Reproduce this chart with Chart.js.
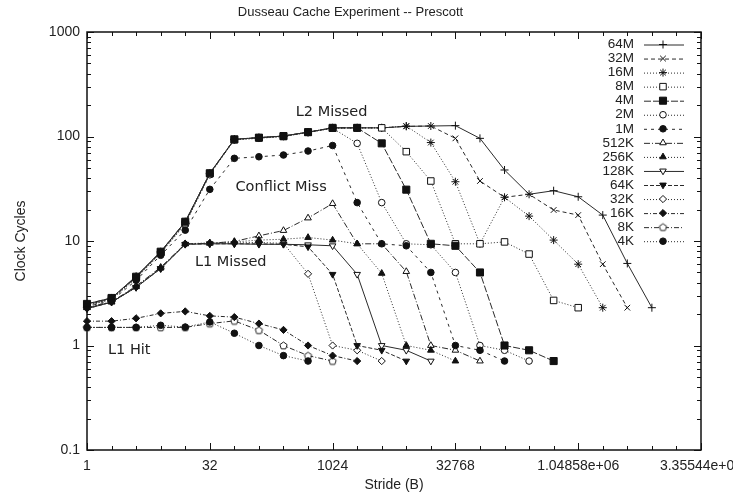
<!DOCTYPE html>
<html>
<head>
<meta charset="utf-8">
<title>Dusseau Cache Experiment -- Prescott</title>
<script src="https://cdn.jsdelivr.net/npm/chart.js@4.4.0/dist/chart.umd.min.js"></script>
<style>
  body { margin: 0; background: #fff; }
  canvas { display: block; }
</style>
</head>
<body>
<canvas id="cacheChart" width="733" height="492"></canvas>
<script>
// ============================================
// DATA
// ============================================

// Stride in bytes (x axis, log2 steps)
const strides = [1, 2, 4, 8, 16, 32, 64, 128, 256, 512, 1024, 2048, 4096, 8192,
    16384, 32768, 65536, 131072, 262144, 524288, 1048576, 2097152, 4194304, 8388608];

// Array sizes, in legend order
const sizeLabels = ['64M', '32M', '16M', '8M', '4M', '2M', '1M', '512K', '256K',
    '128K', '64K', '32K', '16K', '8K', '4K'];

// Clock cycles per access, one list per array size
const cycles64M = [2.5, 2.85, 4.6, 7.9, 15.3, 44.5, 94, 97.5, 101, 110, 121, 121, 121, 125, 126, 127, 96, 47.8, 28, 30.3, 26.5, 17.7, 6.1, 2.3];
const cycles32M = [2.45, 2.8, 4.5, 7.8, 15.0, 44, 94, 97.5, 101, 110, 121, 121, 121, 125, 126, 96, 37.5, 26.2, 28, 19.8, 17.7, 6.0, 2.3];
const cycles16M = [2.45, 2.8, 4.5, 7.8, 15.0, 44, 94, 97.5, 101, 110, 121, 121, 121, 126, 87.5, 36.9, 9.4, 26.2, 17.3, 10.2, 6.0, 2.3];
const cycles8M = [2.4, 2.8, 4.45, 7.7, 14.8, 44, 93, 97, 100, 110, 120, 121, 121, 71.6, 37.5, 9.4, 9.4, 9.8, 7.5, 2.7, 2.3];
const cycles4M = [2.5, 2.85, 4.55, 7.9, 15.3, 44.5, 94, 97.5, 101, 110, 121, 121, 86, 31, 9.4, 9.0, 5.0, 1.0, 0.9, 0.71];
const cycles2M = [2.4, 2.75, 4.4, 7.6, 14.5, 43, 93, 96, 100, 109, 120, 86, 23.3, 9.4, 9.2, 5.0, 1.0, 0.9, 0.71];
const cycles1M = [2.35, 2.7, 4.2, 7.3, 12.7, 31.2, 61.8, 64, 66.5, 72.6, 82, 23.3, 9.4, 9.0, 5.0, 1.0, 0.9, 0.71];
const cycles512K = [2.3, 2.62, 3.7, 5.6, 9.4, 9.5, 9.9, 11.2, 12.6, 16.6, 22.8, 9.4, 9.4, 5.1, 1.0, 0.9, 0.71];
const cycles256K = [2.3, 2.6, 3.65, 5.5, 9.4, 9.6, 9.8, 10.2, 10.4, 10.8, 10.2, 9.4, 4.9, 1.0, 0.9, 0.71];
const cycles128K = [2.25, 2.6, 3.6, 5.45, 9.3, 9.4, 9.4, 9.3, 9.3, 9.2, 9.0, 4.8, 1.0, 0.9, 0.71];
const cycles64K = [2.25, 2.6, 3.6, 5.45, 9.3, 9.4, 9.4, 9.4, 9.3, 8.8, 4.8, 1.0, 0.9, 0.71];
const cycles32K = [2.3, 2.62, 3.65, 5.5, 9.4, 9.5, 9.6, 9.7, 9.5, 4.85, 1.0, 0.9, 0.71];
const cycles16K = [1.71, 1.71, 1.82, 2.03, 2.12, 1.92, 1.87, 1.62, 1.41, 1.0, 0.8, 0.71];
const cycles8K = [1.49, 1.49, 1.49, 1.49, 1.49, 1.62, 1.72, 1.4, 1.0, 0.8, 0.71];
const cycles4K = [1.49, 1.49, 1.49, 1.56, 1.5, 1.68, 1.31, 1.0, 0.8, 0.71];

const allCycles = [cycles64M, cycles32M, cycles16M, cycles8M, cycles4M, cycles2M, cycles1M,
    cycles512K, cycles256K, cycles128K, cycles64K, cycles32K, cycles16K, cycles8K, cycles4K];

// Axis ticks
const xTicks = [1, 32, 1024, 32768, 1048576, 33554432];
const xTickLabels = ['1', '32', '1024', '32768', '1.04858e+06', '3.35544e+07'];
const yTicks = [0.1, 1, 10, 100, 1000];
const yTickLabels = ['0.1', '1', '10', '100', '1000'];

// Text labels placed in data coordinates (stride, cycles)
const noteTexts = ['L2 Missed', 'Conflict Miss', 'L1 Missed', 'L1 Hit'];
const noteStrides = [362, 66, 21, 1.81];
const noteCycles = [172, 33, 6.3, 0.91];

// ============================================
// STYLES
// ============================================

// Open pentagon marker (no built-in point style for it)
function makePentagon() {
    const c = document.createElement('canvas');
    c.width = 11;
    c.height = 11;
    const g = c.getContext('2d');
    g.beginPath();
    for (let i = 0; i < 5; i++) {
        const a = -Math.PI / 2 + i * 2 * Math.PI / 5;
        const px = 5.5 + 3.8 * Math.cos(a);
        const py = 5.8 + 3.8 * Math.sin(a);
        if (i === 0) g.moveTo(px, py); else g.lineTo(px, py);
    }
    g.closePath();
    g.fillStyle = '#fff';
    g.fill();
    g.strokeStyle = '#222';
    g.lineWidth = 1;
    g.stroke();
    return c;
}
const pentagon = makePentagon();

// dash, marker, filled, radius, rotation
const seriesStyles = [
    { dash: [], marker: 'cross', filled: false, radius: 4, rot: 0 },
    { dash: [4, 3], marker: 'crossRot', filled: false, radius: 4, rot: 0 },
    { dash: [1, 2], marker: 'star', filled: false, radius: 4, rot: 0 },
    { dash: [1, 2], marker: 'rect', filled: false, radius: 4.6, rot: 0 },
    { dash: [7, 2], marker: 'rect', filled: true, radius: 5, rot: 0 },
    { dash: [1, 2], marker: 'circle', filled: false, radius: 3.3, rot: 0 },
    { dash: [3, 4], marker: 'circle', filled: true, radius: 3.3, rot: 0 },
    { dash: [6, 2, 1, 2], marker: 'triangle', filled: false, radius: 3.8, rot: 0 },
    { dash: [1, 2], marker: 'triangle', filled: true, radius: 3.8, rot: 0 },
    { dash: [], marker: 'triangle', filled: false, radius: 3.8, rot: 180 },
    { dash: [4, 2], marker: 'triangle', filled: true, radius: 3.8, rot: 180 },
    { dash: [1, 2], marker: 'rectRot', filled: false, radius: 3.6, rot: 0 },
    { dash: [4, 2, 1, 2], marker: 'rectRot', filled: true, radius: 3.6, rot: 0 },
    { dash: [5, 2, 1, 2], marker: pentagon, filled: false, radius: 4, rot: 0 },
    { dash: [1, 2], marker: 'circle', filled: true, radius: 3.3, rot: 0 }
];

const lineColor = '#2a2a2a';
const tickFont = { family: '"Liberation Sans", Arial, sans-serif', size: 14 };

// ============================================
// DATASETS
// ============================================
// Filled markers end up on top of open ones; otherwise later series on top
const datasets = sizeLabels.map((label, i) => {
    const st = seriesStyles[i];
    return {
        label,
        data: allCycles[i].map((v, k) => ({ x: strides[k], y: v })),
        order: (st.filled ? 0 : 100) + (sizeLabels.length - i),
        borderColor: lineColor,
        borderWidth: 1,
        borderDash: st.dash,
        pointStyle: st.marker,
        pointRadius: st.radius,
        pointRotation: st.rot,
        pointBorderColor: '#111',
        pointBorderWidth: 1,
        pointBackgroundColor: st.filled ? '#111' : '#fff',
        tension: 0,
        fill: false,
        clip: false
    };
});

// ============================================
// PLUGIN: gnuplot-style frame, ticks, legend and labels
// ============================================
const gnuplotLook = {
    id: 'gnuplotLook',
    beforeDatasetsDraw(chart) {
        const { ctx, chartArea: a, scales: { x, y } } = chart;
        ctx.save();
        ctx.strokeStyle = '#111';
        ctx.lineWidth = 1;

        // inward ticks on x (bottom and mirrored top)
        for (let p = 0; p <= 25; p++) {
            const px = Math.round(x.getPixelForValue(Math.pow(2, p))) + 0.5;
            const len = (p % 5 === 0) ? 7 : 4;
            ctx.beginPath();
            ctx.moveTo(px, a.bottom);
            ctx.lineTo(px, a.bottom - len);
            ctx.moveTo(px, a.top);
            ctx.lineTo(px, a.top + len);
            ctx.stroke();
        }
        // inward ticks on y (left and mirrored right)
        for (let d = -1; d <= 3; d++) {
            for (let m = 1; m <= 9; m++) {
                const v = m * Math.pow(10, d);
                if (v > 1000) break;
                const py = Math.round(y.getPixelForValue(v)) + 0.5;
                const len = (m === 1) ? 7 : 4;
                ctx.beginPath();
                ctx.moveTo(a.left, py);
                ctx.lineTo(a.left + len, py);
                ctx.moveTo(a.right, py);
                ctx.lineTo(a.right - len, py);
                ctx.stroke();
            }
        }
        // frame
        ctx.lineWidth = 1.5;
        ctx.strokeRect(a.left, a.top, a.right - a.left, a.bottom - a.top);
        ctx.restore();
    },
    afterDraw(chart) {
        const { ctx, scales: { x, y } } = chart;
        ctx.save();

        // legend, gnuplot style: text right aligned, sample line to the right
        ctx.font = '13.5px "Liberation Sans", Arial, sans-serif';
        ctx.textBaseline = 'middle';
        ctx.textAlign = 'right';
        chart.data.datasets.forEach((ds, i) => {
            const rowY = 44.5 + i * 14.05;
            ctx.fillStyle = '#222';
            ctx.fillText(ds.label, 634, rowY);
            ctx.strokeStyle = lineColor;
            ctx.lineWidth = 1;
            ctx.setLineDash(ds.borderDash);
            ctx.beginPath();
            ctx.moveTo(644, rowY + 0.5);
            ctx.lineTo(684, rowY + 0.5);
            ctx.stroke();
            ctx.setLineDash([]);
            ctx.strokeStyle = ds.pointBorderColor;
            ctx.fillStyle = ds.pointBackgroundColor;
            Chart.helpers.drawPoint(ctx, {
                pointStyle: ds.pointStyle,
                rotation: ds.pointRotation,
                radius: ds.pointRadius,
                borderWidth: 1
            }, 663, rowY);
        });

        // region labels
        ctx.font = '14.5px "DejaVu Sans", sans-serif';
        ctx.textAlign = 'left';
        ctx.fillStyle = '#222';
        noteTexts.forEach((t, i) => {
            ctx.fillText(t, x.getPixelForValue(noteStrides[i]), y.getPixelForValue(noteCycles[i]));
        });
        ctx.restore();
    }
};

// ============================================
// CHART
// ============================================
new Chart(document.getElementById('cacheChart'), {
    type: 'line',
    data: { datasets },
    options: {
        responsive: false,
        animation: false,
        layout: { padding: { top: 0, right: 32, left: 0, bottom: 0 } },
        plugins: {
            legend: { display: false },
            tooltip: { enabled: false },
            title: {
                display: true,
                text: 'Dusseau Cache Experiment -- Prescott',
                color: '#222',
                font: { family: '"Liberation Sans", Arial, sans-serif', size: 13, weight: 'normal', lineHeight: 1.2 },
                padding: { top: 5, bottom: 11.4 }
            }
        },
        scales: {
            x: {
                type: 'logarithmic',
                min: 1,
                max: 33554432,
                grid: { display: false, drawTicks: false },
                border: { display: false },
                afterBuildTicks: (scale) => {
                    scale.ticks = xTicks.map(v => ({ value: v }));
                },
                afterFit: (scale) => {
                    scale.height = 42;
                    scale.paddingLeft = 0;
                    scale.paddingRight = 0;
                },
                ticks: {
                    autoSkip: false,
                    maxRotation: 0,
                    minRotation: 0,
                    padding: 8,
                    color: '#222',
                    font: tickFont,
                    callback: (v) => xTickLabels[xTicks.indexOf(v)]
                },
                title: {
                    display: true,
                    text: 'Stride (B)',
                    color: '#222',
                    font: { family: '"Liberation Sans", Arial, sans-serif', size: 14, lineHeight: 1 },
                    padding: { top: 0, bottom: 0 }
                }
            },
            y: {
                type: 'logarithmic',
                min: 0.1,
                max: 1000,
                grid: { display: false, drawTicks: false },
                border: { display: false },
                afterBuildTicks: (scale) => {
                    scale.ticks = yTicks.map(v => ({ value: v }));
                },
                afterFit: (scale) => {
                    scale.width = 87;
                    scale.paddingTop = 0;
                    scale.paddingBottom = 0;
                },
                ticks: {
                    padding: 7,
                    color: '#222',
                    font: tickFont,
                    callback: (v) => yTickLabels[yTicks.indexOf(v)]
                },
                title: {
                    display: true,
                    text: 'Clock Cycles',
                    color: '#222',
                    font: { family: '"Liberation Sans", Arial, sans-serif', size: 14, lineHeight: 1 },
                    padding: { top: 14, bottom: 0 }
                }
            }
        }
    },
    plugins: [gnuplotLook]
});
</script>
</body>
</html>
